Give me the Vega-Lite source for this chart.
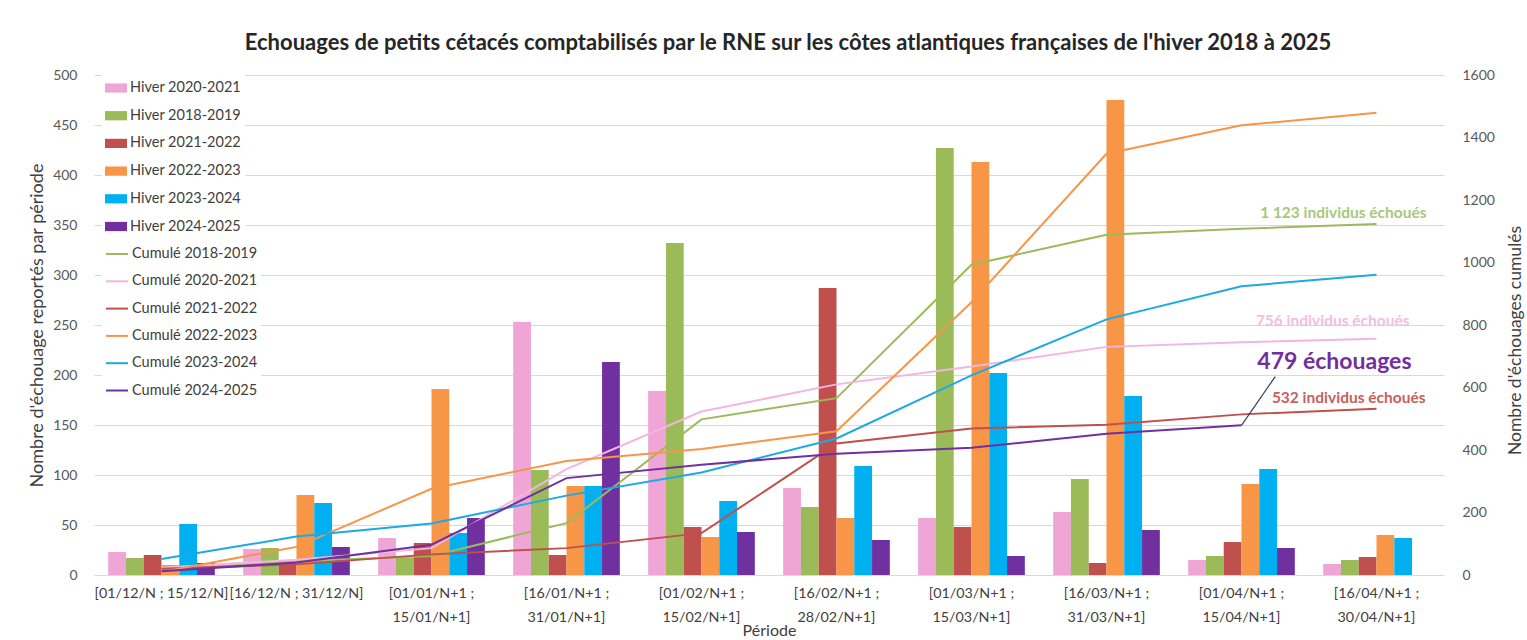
{
  "$schema": "https://vega.github.io/schema/vega-lite/v6.json",
  "width": 1350,
  "height": 500,
  "autosize": "none",
  "padding": {"left": 94, "top": 75, "right": 83, "bottom": 65},
  "background": "white",
  "title": {
    "text": "Echouages de petits cétacés comptabilisés par le RNE sur les côtes atlantiques françaises de l'hiver 2018 à 2025",
    "font": "Lato",
    "fontSize": 22,
    "fontWeight": "bold",
    "color": "#262626",
    "offset": 13,
    "dx": 19
  },
  "config": {
    "view": {"stroke": null},
    "axis": {
      "labelFont": "Lato",
      "labelFontSize": 14,
      "labelColor": "#595959",
      "titleFont": "Lato",
      "titleFontSize": 17.5,
      "titleFontWeight": "normal",
      "titleColor": "#404040",
      "domain": false,
      "ticks": false,
      "gridColor": "#d9d9d9",
      "gridWidth": 1
    },
    "legend": {
      "labelFont": "Lato",
      "labelFontSize": 14.5,
      "labelColor": "#404040"
    }
  },
  "datasets": {
    "hiver": [
      {"periode": "[01/12/N ; 15/12/N]", "serie": "Hiver 2020-2021", "n": 23},
      {"periode": "[01/12/N ; 15/12/N]", "serie": "Hiver 2018-2019", "n": 17},
      {"periode": "[01/12/N ; 15/12/N]", "serie": "Hiver 2021-2022", "n": 20},
      {"periode": "[01/12/N ; 15/12/N]", "serie": "Hiver 2022-2023", "n": 10},
      {"periode": "[01/12/N ; 15/12/N]", "serie": "Hiver 2023-2024", "n": 51},
      {"periode": "[01/12/N ; 15/12/N]", "serie": "Hiver 2024-2025", "n": 12},
      {"periode": "[16/12/N ; 31/12/N]", "serie": "Hiver 2020-2021", "n": 26},
      {"periode": "[16/12/N ; 31/12/N]", "serie": "Hiver 2018-2019", "n": 27},
      {"periode": "[16/12/N ; 31/12/N]", "serie": "Hiver 2021-2022", "n": 14},
      {"periode": "[16/12/N ; 31/12/N]", "serie": "Hiver 2022-2023", "n": 80},
      {"periode": "[16/12/N ; 31/12/N]", "serie": "Hiver 2023-2024", "n": 72},
      {"periode": "[16/12/N ; 31/12/N]", "serie": "Hiver 2024-2025", "n": 28},
      {"periode": "[01/01/N+1 ; 15/01/N+1]", "serie": "Hiver 2020-2021", "n": 37},
      {"periode": "[01/01/N+1 ; 15/01/N+1]", "serie": "Hiver 2018-2019", "n": 17},
      {"periode": "[01/01/N+1 ; 15/01/N+1]", "serie": "Hiver 2021-2022", "n": 32},
      {"periode": "[01/01/N+1 ; 15/01/N+1]", "serie": "Hiver 2022-2023", "n": 186},
      {"periode": "[01/01/N+1 ; 15/01/N+1]", "serie": "Hiver 2023-2024", "n": 42},
      {"periode": "[01/01/N+1 ; 15/01/N+1]", "serie": "Hiver 2024-2025", "n": 57},
      {"periode": "[16/01/N+1 ; 31/01/N+1]", "serie": "Hiver 2020-2021", "n": 253},
      {"periode": "[16/01/N+1 ; 31/01/N+1]", "serie": "Hiver 2018-2019", "n": 105},
      {"periode": "[16/01/N+1 ; 31/01/N+1]", "serie": "Hiver 2021-2022", "n": 20},
      {"periode": "[16/01/N+1 ; 31/01/N+1]", "serie": "Hiver 2022-2023", "n": 89},
      {"periode": "[16/01/N+1 ; 31/01/N+1]", "serie": "Hiver 2023-2024", "n": 89},
      {"periode": "[16/01/N+1 ; 31/01/N+1]", "serie": "Hiver 2024-2025", "n": 213},
      {"periode": "[01/02/N+1 ; 15/02/N+1]", "serie": "Hiver 2020-2021", "n": 184},
      {"periode": "[01/02/N+1 ; 15/02/N+1]", "serie": "Hiver 2018-2019", "n": 332},
      {"periode": "[01/02/N+1 ; 15/02/N+1]", "serie": "Hiver 2021-2022", "n": 48},
      {"periode": "[01/02/N+1 ; 15/02/N+1]", "serie": "Hiver 2022-2023", "n": 38},
      {"periode": "[01/02/N+1 ; 15/02/N+1]", "serie": "Hiver 2023-2024", "n": 74},
      {"periode": "[01/02/N+1 ; 15/02/N+1]", "serie": "Hiver 2024-2025", "n": 43},
      {"periode": "[16/02/N+1 ; 28/02/N+1]", "serie": "Hiver 2020-2021", "n": 87},
      {"periode": "[16/02/N+1 ; 28/02/N+1]", "serie": "Hiver 2018-2019", "n": 68},
      {"periode": "[16/02/N+1 ; 28/02/N+1]", "serie": "Hiver 2021-2022", "n": 287},
      {"periode": "[16/02/N+1 ; 28/02/N+1]", "serie": "Hiver 2022-2023", "n": 57},
      {"periode": "[16/02/N+1 ; 28/02/N+1]", "serie": "Hiver 2023-2024", "n": 109},
      {"periode": "[16/02/N+1 ; 28/02/N+1]", "serie": "Hiver 2024-2025", "n": 35},
      {"periode": "[01/03/N+1 ; 15/03/N+1]", "serie": "Hiver 2020-2021", "n": 57},
      {"periode": "[01/03/N+1 ; 15/03/N+1]", "serie": "Hiver 2018-2019", "n": 427},
      {"periode": "[01/03/N+1 ; 15/03/N+1]", "serie": "Hiver 2021-2022", "n": 48},
      {"periode": "[01/03/N+1 ; 15/03/N+1]", "serie": "Hiver 2022-2023", "n": 413},
      {"periode": "[01/03/N+1 ; 15/03/N+1]", "serie": "Hiver 2023-2024", "n": 202},
      {"periode": "[01/03/N+1 ; 15/03/N+1]", "serie": "Hiver 2024-2025", "n": 19},
      {"periode": "[16/03/N+1 ; 31/03/N+1]", "serie": "Hiver 2020-2021", "n": 63},
      {"periode": "[16/03/N+1 ; 31/03/N+1]", "serie": "Hiver 2018-2019", "n": 96},
      {"periode": "[16/03/N+1 ; 31/03/N+1]", "serie": "Hiver 2021-2022", "n": 12},
      {"periode": "[16/03/N+1 ; 31/03/N+1]", "serie": "Hiver 2022-2023", "n": 475},
      {"periode": "[16/03/N+1 ; 31/03/N+1]", "serie": "Hiver 2023-2024", "n": 179},
      {"periode": "[16/03/N+1 ; 31/03/N+1]", "serie": "Hiver 2024-2025", "n": 45},
      {"periode": "[01/04/N+1 ; 15/04/N+1]", "serie": "Hiver 2020-2021", "n": 15},
      {"periode": "[01/04/N+1 ; 15/04/N+1]", "serie": "Hiver 2018-2019", "n": 19},
      {"periode": "[01/04/N+1 ; 15/04/N+1]", "serie": "Hiver 2021-2022", "n": 33},
      {"periode": "[01/04/N+1 ; 15/04/N+1]", "serie": "Hiver 2022-2023", "n": 91},
      {"periode": "[01/04/N+1 ; 15/04/N+1]", "serie": "Hiver 2023-2024", "n": 106},
      {"periode": "[01/04/N+1 ; 15/04/N+1]", "serie": "Hiver 2024-2025", "n": 27},
      {"periode": "[16/04/N+1 ; 30/04/N+1]", "serie": "Hiver 2020-2021", "n": 11},
      {"periode": "[16/04/N+1 ; 30/04/N+1]", "serie": "Hiver 2018-2019", "n": 15},
      {"periode": "[16/04/N+1 ; 30/04/N+1]", "serie": "Hiver 2021-2022", "n": 18},
      {"periode": "[16/04/N+1 ; 30/04/N+1]", "serie": "Hiver 2022-2023", "n": 40},
      {"periode": "[16/04/N+1 ; 30/04/N+1]", "serie": "Hiver 2023-2024", "n": 37}
    ],
    "cumul": [
      {"periode": "[01/12/N ; 15/12/N]", "serie": "Cumulé 2018-2019", "c": 17},
      {"periode": "[16/12/N ; 31/12/N]", "serie": "Cumulé 2018-2019", "c": 44},
      {"periode": "[01/01/N+1 ; 15/01/N+1]", "serie": "Cumulé 2018-2019", "c": 61},
      {"periode": "[16/01/N+1 ; 31/01/N+1]", "serie": "Cumulé 2018-2019", "c": 166},
      {"periode": "[01/02/N+1 ; 15/02/N+1]", "serie": "Cumulé 2018-2019", "c": 498},
      {"periode": "[16/02/N+1 ; 28/02/N+1]", "serie": "Cumulé 2018-2019", "c": 566},
      {"periode": "[01/03/N+1 ; 15/03/N+1]", "serie": "Cumulé 2018-2019", "c": 993},
      {"periode": "[16/03/N+1 ; 31/03/N+1]", "serie": "Cumulé 2018-2019", "c": 1089},
      {"periode": "[01/04/N+1 ; 15/04/N+1]", "serie": "Cumulé 2018-2019", "c": 1108},
      {"periode": "[16/04/N+1 ; 30/04/N+1]", "serie": "Cumulé 2018-2019", "c": 1123},
      {"periode": "[01/12/N ; 15/12/N]", "serie": "Cumulé 2020-2021", "c": 23},
      {"periode": "[16/12/N ; 31/12/N]", "serie": "Cumulé 2020-2021", "c": 49},
      {"periode": "[01/01/N+1 ; 15/01/N+1]", "serie": "Cumulé 2020-2021", "c": 86},
      {"periode": "[16/01/N+1 ; 31/01/N+1]", "serie": "Cumulé 2020-2021", "c": 339},
      {"periode": "[01/02/N+1 ; 15/02/N+1]", "serie": "Cumulé 2020-2021", "c": 523},
      {"periode": "[16/02/N+1 ; 28/02/N+1]", "serie": "Cumulé 2020-2021", "c": 610},
      {"periode": "[01/03/N+1 ; 15/03/N+1]", "serie": "Cumulé 2020-2021", "c": 667},
      {"periode": "[16/03/N+1 ; 31/03/N+1]", "serie": "Cumulé 2020-2021", "c": 730},
      {"periode": "[01/04/N+1 ; 15/04/N+1]", "serie": "Cumulé 2020-2021", "c": 745},
      {"periode": "[16/04/N+1 ; 30/04/N+1]", "serie": "Cumulé 2020-2021", "c": 756},
      {"periode": "[01/12/N ; 15/12/N]", "serie": "Cumulé 2021-2022", "c": 20},
      {"periode": "[16/12/N ; 31/12/N]", "serie": "Cumulé 2021-2022", "c": 34},
      {"periode": "[01/01/N+1 ; 15/01/N+1]", "serie": "Cumulé 2021-2022", "c": 66},
      {"periode": "[16/01/N+1 ; 31/01/N+1]", "serie": "Cumulé 2021-2022", "c": 86},
      {"periode": "[01/02/N+1 ; 15/02/N+1]", "serie": "Cumulé 2021-2022", "c": 134},
      {"periode": "[16/02/N+1 ; 28/02/N+1]", "serie": "Cumulé 2021-2022", "c": 421},
      {"periode": "[01/03/N+1 ; 15/03/N+1]", "serie": "Cumulé 2021-2022", "c": 469},
      {"periode": "[16/03/N+1 ; 31/03/N+1]", "serie": "Cumulé 2021-2022", "c": 481},
      {"periode": "[01/04/N+1 ; 15/04/N+1]", "serie": "Cumulé 2021-2022", "c": 514},
      {"periode": "[16/04/N+1 ; 30/04/N+1]", "serie": "Cumulé 2021-2022", "c": 532},
      {"periode": "[01/12/N ; 15/12/N]", "serie": "Cumulé 2022-2023", "c": 10},
      {"periode": "[16/12/N ; 31/12/N]", "serie": "Cumulé 2022-2023", "c": 90},
      {"periode": "[01/01/N+1 ; 15/01/N+1]", "serie": "Cumulé 2022-2023", "c": 276},
      {"periode": "[16/01/N+1 ; 31/01/N+1]", "serie": "Cumulé 2022-2023", "c": 365},
      {"periode": "[01/02/N+1 ; 15/02/N+1]", "serie": "Cumulé 2022-2023", "c": 403},
      {"periode": "[16/02/N+1 ; 28/02/N+1]", "serie": "Cumulé 2022-2023", "c": 460},
      {"periode": "[01/03/N+1 ; 15/03/N+1]", "serie": "Cumulé 2022-2023", "c": 873},
      {"periode": "[16/03/N+1 ; 31/03/N+1]", "serie": "Cumulé 2022-2023", "c": 1348},
      {"periode": "[01/04/N+1 ; 15/04/N+1]", "serie": "Cumulé 2022-2023", "c": 1439},
      {"periode": "[16/04/N+1 ; 30/04/N+1]", "serie": "Cumulé 2022-2023", "c": 1479},
      {"periode": "[01/12/N ; 15/12/N]", "serie": "Cumulé 2023-2024", "c": 51},
      {"periode": "[16/12/N ; 31/12/N]", "serie": "Cumulé 2023-2024", "c": 123},
      {"periode": "[01/01/N+1 ; 15/01/N+1]", "serie": "Cumulé 2023-2024", "c": 165},
      {"periode": "[16/01/N+1 ; 31/01/N+1]", "serie": "Cumulé 2023-2024", "c": 254},
      {"periode": "[01/02/N+1 ; 15/02/N+1]", "serie": "Cumulé 2023-2024", "c": 328},
      {"periode": "[16/02/N+1 ; 28/02/N+1]", "serie": "Cumulé 2023-2024", "c": 437},
      {"periode": "[01/03/N+1 ; 15/03/N+1]", "serie": "Cumulé 2023-2024", "c": 639},
      {"periode": "[16/03/N+1 ; 31/03/N+1]", "serie": "Cumulé 2023-2024", "c": 818},
      {"periode": "[01/04/N+1 ; 15/04/N+1]", "serie": "Cumulé 2023-2024", "c": 924},
      {"periode": "[16/04/N+1 ; 30/04/N+1]", "serie": "Cumulé 2023-2024", "c": 961},
      {"periode": "[01/12/N ; 15/12/N]", "serie": "Cumulé 2024-2025", "c": 12},
      {"periode": "[16/12/N ; 31/12/N]", "serie": "Cumulé 2024-2025", "c": 40},
      {"periode": "[01/01/N+1 ; 15/01/N+1]", "serie": "Cumulé 2024-2025", "c": 97},
      {"periode": "[16/01/N+1 ; 31/01/N+1]", "serie": "Cumulé 2024-2025", "c": 310},
      {"periode": "[01/02/N+1 ; 15/02/N+1]", "serie": "Cumulé 2024-2025", "c": 353},
      {"periode": "[16/02/N+1 ; 28/02/N+1]", "serie": "Cumulé 2024-2025", "c": 388},
      {"periode": "[01/03/N+1 ; 15/03/N+1]", "serie": "Cumulé 2024-2025", "c": 407},
      {"periode": "[16/03/N+1 ; 31/03/N+1]", "serie": "Cumulé 2024-2025", "c": 452},
      {"periode": "[01/04/N+1 ; 15/04/N+1]", "serie": "Cumulé 2024-2025", "c": 479}
    ]
  },
  "layer": [
    {
      "layer": [
        {
          "data": {"name": "hiver"},
          "mark": {"type": "bar"},
          "encoding": {
            "x": {
              "field": "periode",
              "type": "nominal",
              "sort": ["[01/12/N ; 15/12/N]", "[16/12/N ; 31/12/N]", "[01/01/N+1 ; 15/01/N+1]", "[16/01/N+1 ; 31/01/N+1]", "[01/02/N+1 ; 15/02/N+1]", "[16/02/N+1 ; 28/02/N+1]", "[01/03/N+1 ; 15/03/N+1]", "[16/03/N+1 ; 31/03/N+1]", "[01/04/N+1 ; 15/04/N+1]", "[16/04/N+1 ; 30/04/N+1]"],
              "scale": {"domain": ["[01/12/N ; 15/12/N]", "[16/12/N ; 31/12/N]", "[01/01/N+1 ; 15/01/N+1]", "[16/01/N+1 ; 31/01/N+1]", "[01/02/N+1 ; 15/02/N+1]", "[16/02/N+1 ; 28/02/N+1]", "[01/03/N+1 ; 15/03/N+1]", "[16/03/N+1 ; 31/03/N+1]", "[01/04/N+1 ; 15/04/N+1]", "[16/04/N+1 ; 30/04/N+1]"], "paddingInner": 0.21, "paddingOuter": 0.105},
              "axis": {
                "title": "Période",
                "labelAngle": 0,
                "labelPadding": 11,
                "labelFontSize": 14.3,
                "labelColor": "#404040",
                "labelLimit": 0,
                "labelOverlap": false,
                "labelLineHeight": 24,
                "labelExpr": "length(datum.label) > 20 ? [slice(datum.label, 0, 12), slice(datum.label, 13)] : datum.label",
                "titleFontSize": 16,
                "titlePadding": -2
              }
            },
            "xOffset": {
              "field": "serie",
              "type": "nominal",
              "sort": ["Hiver 2020-2021", "Hiver 2018-2019", "Hiver 2021-2022", "Hiver 2022-2023", "Hiver 2023-2024", "Hiver 2024-2025"],
              "scale": {"domain": ["Hiver 2020-2021", "Hiver 2018-2019", "Hiver 2021-2022", "Hiver 2022-2023", "Hiver 2023-2024", "Hiver 2024-2025"], "paddingInner": 0, "paddingOuter": 0}
            },
            "y": {
              "field": "n",
              "type": "quantitative",
              "scale": {"domain": [0, 500], "nice": false},
              "axis": {
                "values": [0, 50, 100, 150, 200, 250, 300, 350, 400, 450, 500],
                "title": "Nombre d'échouage reportés par période",
                "titleFontSize": 18,
                "labelPadding": 17,
                "titlePadding": 6,
                "grid": true
              }
            },
            "color": {
              "field": "serie",
              "type": "nominal",
              "scale": {
                "domain": ["Hiver 2020-2021", "Hiver 2018-2019", "Hiver 2021-2022", "Hiver 2022-2023", "Hiver 2023-2024", "Hiver 2024-2025"],
                "range": ["#EFA6D6", "#9BBB59", "#C0504D", "#F79646", "#00B0F0", "#7030A0"]
              },
              "legend": {
                "title": null,
                "orient": "none",
                "legendX": 8,
                "legendY": -1,
                "padding": 3,
                "fillColor": "white",
                "symbolType": "M-1,-0.42H1V0.42H-1Z",
                "symbolSize": 484,
                "symbolStrokeWidth": 0,
                "symbolOpacity": 1,
                "rowPadding": 9.7,
                "labelOffset": 3
              }
            }
          }
        },
        {
          "data": {"name": "cumul"},
          "mark": {"type": "line", "strokeWidth": 2},
          "encoding": {
            "x": {
              "field": "periode",
              "type": "nominal",
              "sort": ["[01/12/N ; 15/12/N]", "[16/12/N ; 31/12/N]", "[01/01/N+1 ; 15/01/N+1]", "[16/01/N+1 ; 31/01/N+1]", "[01/02/N+1 ; 15/02/N+1]", "[16/02/N+1 ; 28/02/N+1]", "[01/03/N+1 ; 15/03/N+1]", "[16/03/N+1 ; 31/03/N+1]", "[01/04/N+1 ; 15/04/N+1]", "[16/04/N+1 ; 30/04/N+1]"]
            },
            "y": {
              "field": "c",
              "type": "quantitative",
              "scale": {"domain": [0, 1600], "nice": false},
              "axis": {
                "orient": "right",
                "values": [0, 200, 400, 600, 800, 1000, 1200, 1400, 1600],
                "format": "d",
                "grid": false,
                "title": "Nombre d'échouages cumulés",
                "titleAngle": 270,
                "titleX": 71,
                "titleY": 265,
                "titleBaseline": "middle",
                "labelPadding": 18
              }
            },
            "stroke": {
              "field": "serie",
              "type": "nominal",
              "scale": {
                "domain": ["Cumulé 2018-2019", "Cumulé 2020-2021", "Cumulé 2021-2022", "Cumulé 2022-2023", "Cumulé 2023-2024", "Cumulé 2024-2025"],
                "range": ["#9BBB59", "#F2B6E0", "#C0504D", "#F79646", "#1DA9E3", "#7030A0"]
              },
              "legend": {
                "title": null,
                "orient": "none",
                "legendX": 8,
                "legendY": 164,
                "padding": 3,
                "fillColor": "white",
                "symbolType": "stroke",
                "symbolSize": 484,
                "symbolStrokeWidth": 2,
                "rowPadding": 8.3,
                "labelOffset": 3
              }
            }
          }
        },
        {
          "data": {"values": [{"periode": "[16/04/N+1 ; 30/04/N+1]", "c": 1158, "label": "1 123 individus échoués"}]},
          "mark": {"type": "text", "align": "right", "baseline": "middle", "dx": 50, "font": "Lato", "fontSize": 15.5, "fontWeight": "bold", "color": "#A9C77A"},
          "encoding": {
            "x": {"field": "periode", "type": "nominal", "sort": ["[01/12/N ; 15/12/N]", "[16/12/N ; 31/12/N]", "[01/01/N+1 ; 15/01/N+1]", "[16/01/N+1 ; 31/01/N+1]", "[01/02/N+1 ; 15/02/N+1]", "[16/02/N+1 ; 28/02/N+1]", "[01/03/N+1 ; 15/03/N+1]", "[16/03/N+1 ; 31/03/N+1]", "[01/04/N+1 ; 15/04/N+1]", "[16/04/N+1 ; 30/04/N+1]"]},
            "y": {"field": "c", "type": "quantitative", "scale": {"domain": [0, 1600], "nice": false}, "axis": null},
            "text": {"field": "label"}
          }
        },
        {
          "data": {"values": [{"periode": "[16/04/N+1 ; 30/04/N+1]", "c": 813, "label": "756 individus échoués"}]},
          "mark": {"type": "text", "align": "right", "baseline": "middle", "dx": 33, "font": "Lato", "fontSize": 15.5, "fontWeight": "bold", "color": "#F2BDE2"},
          "encoding": {
            "x": {"field": "periode", "type": "nominal", "sort": ["[01/12/N ; 15/12/N]", "[16/12/N ; 31/12/N]", "[01/01/N+1 ; 15/01/N+1]", "[16/01/N+1 ; 31/01/N+1]", "[01/02/N+1 ; 15/02/N+1]", "[16/02/N+1 ; 28/02/N+1]", "[01/03/N+1 ; 15/03/N+1]", "[16/03/N+1 ; 31/03/N+1]", "[01/04/N+1 ; 15/04/N+1]", "[16/04/N+1 ; 30/04/N+1]"]},
            "y": {"field": "c", "type": "quantitative", "scale": {"domain": [0, 1600], "nice": false}, "axis": null},
            "text": {"field": "label"}
          }
        },
        {
          "data": {"values": [{"periode": "[16/04/N+1 ; 30/04/N+1]", "c": 566, "label": "532 individus échoués"}]},
          "mark": {"type": "text", "align": "right", "baseline": "middle", "dx": 49, "font": "Lato", "fontSize": 15.5, "fontWeight": "bold", "color": "#C9605C"},
          "encoding": {
            "x": {"field": "periode", "type": "nominal", "sort": ["[01/12/N ; 15/12/N]", "[16/12/N ; 31/12/N]", "[01/01/N+1 ; 15/01/N+1]", "[16/01/N+1 ; 31/01/N+1]", "[01/02/N+1 ; 15/02/N+1]", "[16/02/N+1 ; 28/02/N+1]", "[01/03/N+1 ; 15/03/N+1]", "[16/03/N+1 ; 31/03/N+1]", "[01/04/N+1 ; 15/04/N+1]", "[16/04/N+1 ; 30/04/N+1]"]},
            "y": {"field": "c", "type": "quantitative", "scale": {"domain": [0, 1600], "nice": false}, "axis": null},
            "text": {"field": "label"}
          }
        },
        {
          "data": {"values": [{"periode": "[16/04/N+1 ; 30/04/N+1]", "c": 682, "label": "479 échouages"}]},
          "mark": {"type": "text", "align": "right", "baseline": "middle", "dx": 35, "font": "Lato", "fontSize": 23, "fontWeight": "bold", "color": "#7030A0"},
          "encoding": {
            "x": {"field": "periode", "type": "nominal", "sort": ["[01/12/N ; 15/12/N]", "[16/12/N ; 31/12/N]", "[01/01/N+1 ; 15/01/N+1]", "[16/01/N+1 ; 31/01/N+1]", "[01/02/N+1 ; 15/02/N+1]", "[16/02/N+1 ; 28/02/N+1]", "[01/03/N+1 ; 15/03/N+1]", "[16/03/N+1 ; 31/03/N+1]", "[01/04/N+1 ; 15/04/N+1]", "[16/04/N+1 ; 30/04/N+1]"]},
            "y": {"field": "c", "type": "quantitative", "scale": {"domain": [0, 1600], "nice": false}, "axis": null},
            "text": {"field": "label"}
          }
        }
      ],
      "resolve": {"scale": {"y": "independent", "color": "independent"}}
    },
    {
      "data": {"values": [{"rang1": 8.5, "rang2": 8.75, "c1": 479, "c2": 635}]},
      "mark": {"type": "rule", "strokeWidth": 1.2, "color": "#3a3a5a"},
      "encoding": {
        "x": {"field": "rang1", "type": "quantitative", "scale": {"domain": [0, 10], "nice": false, "zero": false}, "axis": null},
        "x2": {"field": "rang2"},
        "y": {"field": "c1", "type": "quantitative", "scale": {"domain": [0, 1600], "nice": false}, "axis": null},
        "y2": {"field": "c2"}
      }
    }
  ],
  "resolve": {"scale": {"x": "independent", "y": "independent"}}
}
